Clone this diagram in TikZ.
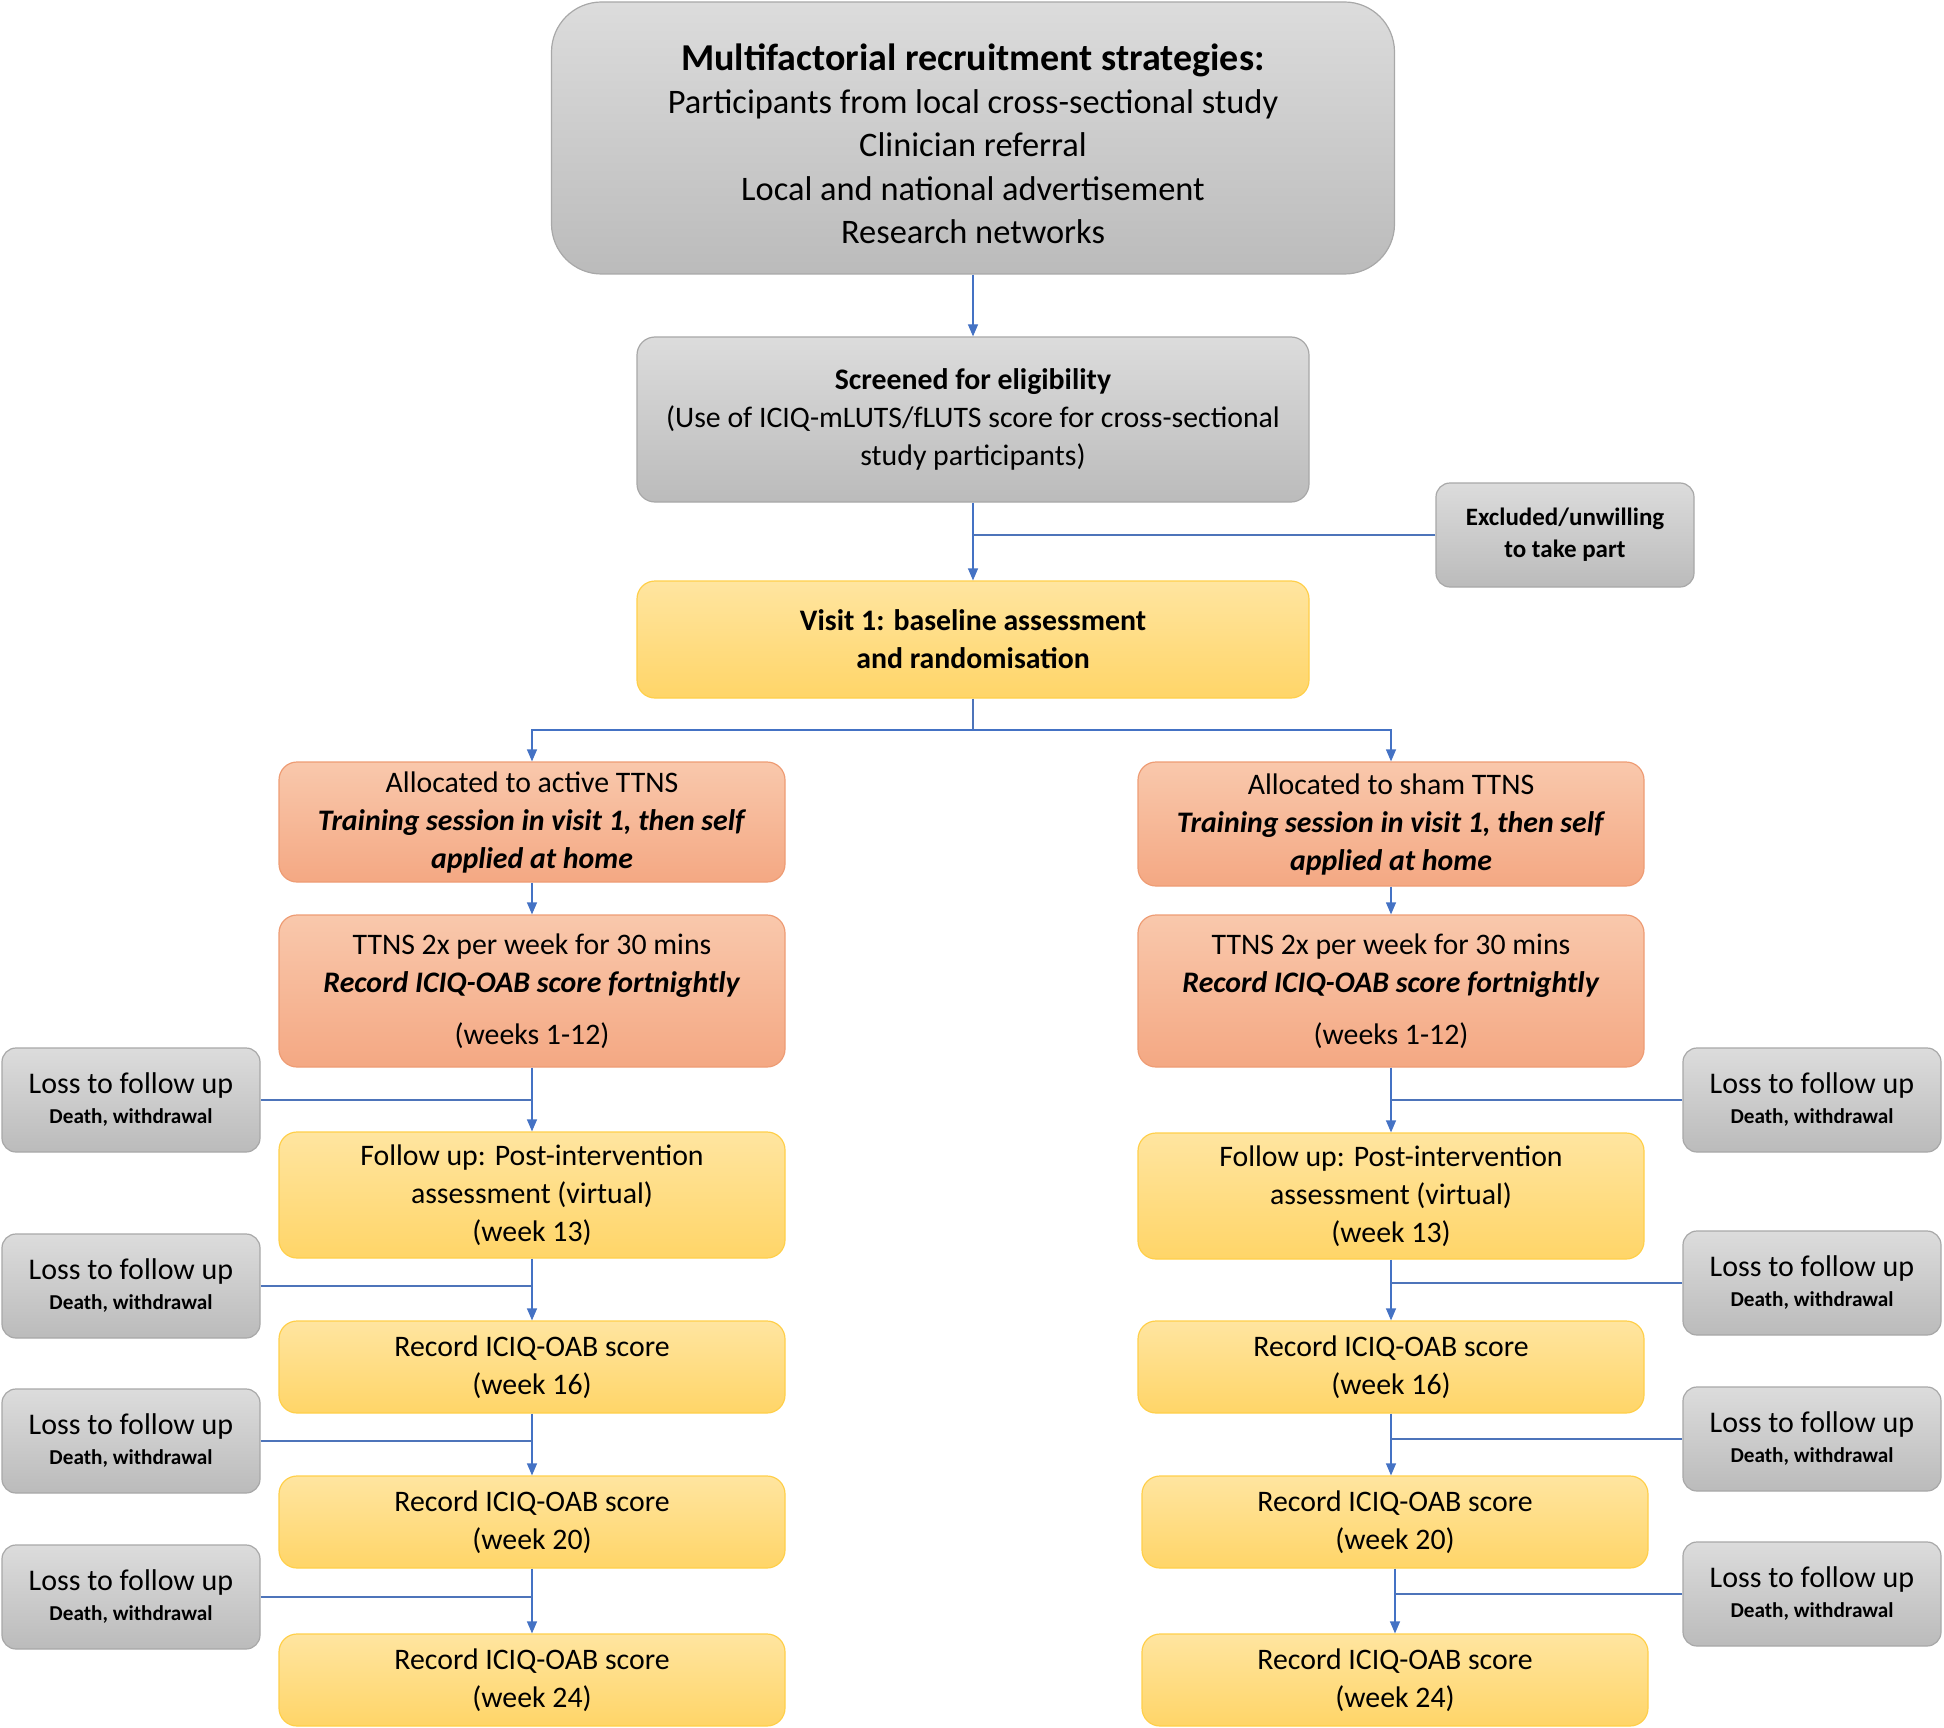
\documentclass[tikz,border=0pt]{standalone}
\usepackage{fontspec}
\setmainfont{Carlito}
\usetikzlibrary{positioning}
\usetikzlibrary{arrows.meta}
\definecolor{grayTop}{HTML}{DCDCDC}
\definecolor{grayBot}{HTML}{BBBBBB}
\definecolor{grayLine}{HTML}{A8A8A8}
\definecolor{orangeTop}{HTML}{F9C8AC}
\definecolor{orangeBot}{HTML}{F4A883}
\definecolor{orangeLine}{HTML}{EE9C74}
\definecolor{yellowTop}{HTML}{FFE5A0}
\definecolor{yellowBot}{HTML}{FFD568}
\definecolor{yellowLine}{HTML}{FFCF4A}
\definecolor{flowBlue}{HTML}{4472C4}
\newcommand{\mainsize}{\fontsize{14.9}{19}\selectfont}

\begin{document}
\begin{tikzpicture}[x=0.5pt, y=-0.5pt,
  graybox/.style={draw=grayLine, top color=grayTop, bottom color=grayBot, rounded corners=9pt, align=center, inner sep=2pt, line width=0.6pt},
  orangebox/.style={draw=orangeLine, top color=orangeTop, bottom color=orangeBot, rounded corners=9pt, align=center, inner sep=2pt, line width=0.6pt, minimum width=253pt, font=\mainsize},
  yellowbox/.style={draw=yellowLine, top color=yellowTop, bottom color=yellowBot, rounded corners=9pt, align=center, inner sep=2pt, line width=0.6pt, minimum width=253pt, font=\mainsize},
  lossbox/.style={graybox, rounded corners=7pt, minimum width=129pt, minimum height=52pt},
  arr/.style={draw=flowBlue, line width=0.6pt, -{Triangle[width=5pt,length=6pt]}},
  link/.style={draw=flowBlue!85!gray, line width=0.6pt}]
  \useasboundingbox (0,0) rectangle (1944,1728);

  % top part
  \node [graybox, rounded corners=25pt, minimum width=421.5pt, minimum height=136pt, font=\fontsize{17.2}{21.7}\selectfont] (recruit) at (973, 138)
    {\rule{0pt}{19pt}{\fontsize{19}{23}\selectfont\bfseries Multifactorial recruitment strategies:}\\
     Participants from local cross-sectional study\\
     Clinician referral\\ Local and national advertisement\\ Research networks};
  \node [graybox, minimum width=336pt, minimum height=82.5pt, font=\mainsize] (screen) at (973, 419.5)
    {\textbf{Screened for eligibility}\\(Use of ICIQ-mLUTS/fLUTS score for cross-sectional\\study participants)};
  \node [graybox, rounded corners=7pt, minimum width=129pt, minimum height=52pt, font=\fontsize{12.5}{16}\selectfont\bfseries] (excl) at (1565, 535)
    {Excluded/unwilling\\to take part};
  \node [yellowbox, minimum width=336pt, minimum height=58.5pt, font=\mainsize\bfseries] (visit) at (973, 639.5)
    {Visit 1: baseline assessment\\and randomisation};
  \coordinate (split) at (973, 730);

  % left arm
  \node [orangebox, minimum height=60pt] (alloca) at (532, 822)
    {Allocated to active TTNS\\ \textbf{\textit{Training session in visit 1, then self}}\\ \textbf{\textit{applied at home}}};
  \node [orangebox, minimum height=76pt] (ttnsa) at (532, 991)
    {TTNS 2x per week for 30 mins\\ \textbf{\textit{Record ICIQ-OAB score fortnightly}}\\[7pt] (weeks 1-12)};
  \node [yellowbox, minimum height=63pt] (folla) at (532, 1195)
    {Follow up: Post-intervention\\assessment (virtual)\\(week 13)};
  \node [yellowbox, minimum height=46pt] (reca16) at (532, 1367) {Record ICIQ-OAB score\\(week 16)};
  \node [yellowbox, minimum height=46pt] (reca20) at (532, 1522) {Record ICIQ-OAB score\\(week 20)};
  \node [yellowbox, minimum height=46pt] (reca24) at (532, 1680) {Record ICIQ-OAB score\\(week 24)};

  % right arm
  \node [orangebox, minimum height=62pt] (allocs) at (1391, 824)
    {Allocated to sham TTNS\\ \textbf{\textit{Training session in visit 1, then self}}\\ \textbf{\textit{applied at home}}};
  \node [orangebox, minimum height=76pt] (ttnss) at (1391, 991)
    {TTNS 2x per week for 30 mins\\ \textbf{\textit{Record ICIQ-OAB score fortnightly}}\\[7pt] (weeks 1-12)};
  \node [yellowbox, minimum height=63pt] (folls) at (1391, 1196)
    {Follow up: Post-intervention\\assessment (virtual)\\(week 13)};
  \node [yellowbox, minimum height=46pt] (recs16) at (1391, 1367) {Record ICIQ-OAB score\\(week 16)};
  \node [yellowbox, minimum height=46pt] (recs20) at (1395, 1522) {Record ICIQ-OAB score\\(week 20)};
  \node [yellowbox, minimum height=46pt] (recs24) at (1395, 1680) {Record ICIQ-OAB score\\(week 24)};

  % loss boxes
  \foreach \name/\xx/\yy in {lossa1/131/1100, lossa2/131/1286, lossa3/131/1441, lossa4/131/1597,
                             losss1/1812/1100, losss2/1812/1283, losss3/1812/1439, losss4/1812/1594}
    \node [lossbox] (\name) at (\xx, \yy)
      {\fontsize{15}{17}\selectfont Loss to follow up\\[3pt] \fontsize{10.6}{13}\selectfont\bfseries Death, withdrawal};

  % connectors
  \draw [arr] (recruit.south) -- (screen.north);
  \draw [arr] (screen.south) -- (visit.north);
  \draw [link] (excl.west) -- (excl.west -| screen.south);
  \draw [link] (visit.south) -- (split);
  \draw [arr] (split) -| (alloca.north);
  \draw [arr] (split) -| (allocs.north);

  \draw [arr] (alloca.south) -- (ttnsa.north);
  \draw [arr] (ttnsa.south) -- (folla.north);
  \draw [arr] (folla.south) -- (reca16.north);
  \draw [arr] (reca16.south) -- (reca16.south |- reca20.north);
  \draw [arr] (reca20.south) -- (reca24.north);

  \draw [arr] (allocs.south) -- (ttnss.north);
  \draw [arr] (ttnss.south) -- (folls.north);
  \draw [arr] (folls.south) -- (recs16.north);
  \draw [arr] (recs16.south) -- (recs16.south |- recs20.north);
  \draw [arr] (recs20.south) -- (recs24.north);

  \draw [link] (lossa1.east) -- (lossa1.east -| ttnsa.south);
  \draw [link] (lossa2.east) -- (lossa2.east -| folla.south);
  \draw [link] (lossa3.east) -- (lossa3.east -| reca16.south);
  \draw [link] (lossa4.east) -- (lossa4.east -| reca20.south);
  \draw [link] (losss1.west) -- (losss1.west -| ttnss.south);
  \draw [link] (losss2.west) -- (losss2.west -| folls.south);
  \draw [link] (losss3.west) -- (losss3.west -| recs16.south);
  \draw [link] (losss4.west) -- (losss4.west -| recs20.south);
\end{tikzpicture}
\end{document}
